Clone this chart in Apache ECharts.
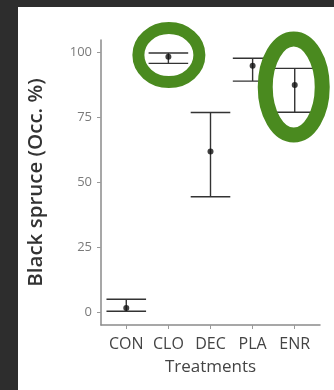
<!DOCTYPE html>
<html>
<head>
<meta charset="utf-8">
<script src="https://cdn.jsdelivr.net/npm/echarts@6/dist/echarts.min.js"></script>
<style>
html,body{margin:0;padding:0;background:#2d2d2d;}
#wrap{position:absolute;left:0;top:0;width:334px;height:390px;background:#2d2d2d;}
#chart{position:absolute;left:18px;top:7px;width:316px;height:383px;background:#ffffff;}
</style>
</head>
<body>
<div id="wrap"><div id="chart"></div></div>
<script>
var categories = ['CON', 'CLO', 'DEC', 'PLA', 'ENR'];
var means = [1.5, 98.2, 61.7, 94.7, 87.3];
var lower = [0.3, 95.6, 44.3, 88.8, 76.8];
var upper = [4.9, 99.6, 76.7, 97.6, 93.7];
var yTicks = [0, 25, 50, 75, 100];

var xPos = categories.map(function (c, i) { return i + 1; });
var errData = categories.map(function (c, i) { return [i + 1, lower[i], upper[i]]; });
var ptData = categories.map(function (c, i) { return [i + 1, means[i]]; });

var chart = echarts.init(document.getElementById('chart'), null, {renderer: 'canvas'});
var capHalf = 0.47;
var option = {
  animation: false,
  backgroundColor: '#ffffff',
  grid: {left: 70, top: 33, right: 14, bottom: 65, containLabel: false},
  xAxis: {
    type: 'value', min: 0.4, max: 5.6,
    splitLine: {show: false},
    axisLine: {show: true, onZero: false, lineStyle: {color: '#8a8a8a', width: 1.5}},
    axisTick: {show: true, length: 4, customValues: xPos, lineStyle: {color: '#9a9a9a'}},
    axisLabel: {
      customValues: xPos, margin: 11, color: '#444', fontSize: 16,
      fontFamily: 'Open Sans',
      formatter: function (v) { return categories[Math.round(v) - 1] || ''; }
    },
    name: 'Treatments', nameLocation: 'middle', nameGap: 34,
    nameTextStyle: {color: '#444', fontSize: 17, fontFamily: 'Open Sans'}
  },
  yAxis: {
    type: 'value', min: -5, max: 104.6,
    splitLine: {show: false},
    axisLine: {show: true, onZero: false, lineStyle: {color: '#8a8a8a', width: 1.5}},
    axisTick: {show: true, length: 4, customValues: yTicks, lineStyle: {color: '#9a9a9a'}},
    axisLabel: {customValues: yTicks, margin: 9, color: '#7a7a7a', fontSize: 13, fontFamily: 'Open Sans'},
    name: 'Black spruce (Occ. %)', nameLocation: 'middle', nameGap: 54, nameRotate: 90,
    nameTextStyle: {color: '#333', fontSize: 20.5, fontFamily: 'Open Sans', fontWeight: 600}
  },
  series: [
    {
      type: 'custom',
      data: errData,
      renderItem: function (params, api) {
        var x = api.value(0);
        var lo = api.coord([x, api.value(1)]);
        var hi = api.coord([x, api.value(2)]);
        var l1 = api.coord([x - capHalf, api.value(1)]);
        var r1 = api.coord([x + capHalf, api.value(1)]);
        var l2 = api.coord([x - capHalf, api.value(2)]);
        var r2 = api.coord([x + capHalf, api.value(2)]);
        var st = {stroke: '#333', lineWidth: 1.4};
        return {
          type: 'group',
          children: [
            {type: 'line', shape: {x1: lo[0], y1: lo[1], x2: hi[0], y2: hi[1]}, style: st},
            {type: 'line', shape: {x1: l1[0], y1: l1[1], x2: r1[0], y2: r1[1]}, style: st},
            {type: 'line', shape: {x1: l2[0], y1: l2[1], x2: r2[0], y2: r2[1]}, style: st}
          ]
        };
      },
      z: 2
    },
    {
      type: 'scatter', data: ptData, symbol: 'circle', symbolSize: 6,
      itemStyle: {color: '#111'}, z: 3
    }
  ]
};
chart.setOption(option);

// annotation ellipses (green highlight circles), anchored to the data points
var c1 = chart.convertToPixel({gridIndex: 0}, [2, 98.8]);
var c2 = chart.convertToPixel({gridIndex: 0}, [5, 86.5]);
chart.setOption({
  graphic: [
    {type: 'ellipse', shape: {cx: c1[0] + 0.5, cy: c1[1], rx: 30.5, ry: 27}, style: {fill: 'none', stroke: '#4a8a1f', lineWidth: 12}, z: 100},
    {type: 'ellipse', shape: {cx: c2[0] - 1, cy: c2[1], rx: 28.5, ry: 48}, style: {fill: 'none', stroke: '#4a8a1f', lineWidth: 15}, z: 100}
  ]
});
</script>
</body>
</html>
